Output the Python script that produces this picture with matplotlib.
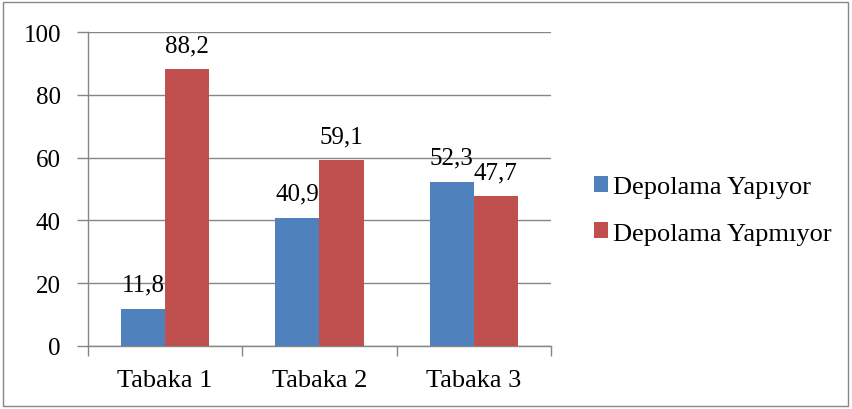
import matplotlib.pyplot as plt
import numpy as np
from matplotlib.patches import Rectangle

categories = ["Tabaka 1", "Tabaka 2", "Tabaka 3"]
yapiyor = [11.8, 40.9, 52.3]
yapmiyor = [88.2, 59.1, 47.7]
series_names = ["Depolama Yapıyor", "Depolama Yapmıyor"]
yticks = [0, 20, 40, 60, 80, 100]

plt.rcParams['font.family'] = ['Liberation Serif', 'DejaVu Serif']
grid_col = '#868686'
fs = 18

fig = plt.figure(figsize=(8.53, 4.10), dpi=100)
ax = fig.add_axes([88 / 853, 63 / 410, 463 / 853, 314 / 410])

x = np.arange(len(categories))
w = 1 / 3.5
b1 = ax.bar(x - w / 2, yapiyor, w, color='#4F81BD', label=series_names[0], zorder=3)
b2 = ax.bar(x + w / 2, yapmiyor, w, color='#C0504D', label=series_names[1], zorder=3)

for bars, vals in ((b1, yapiyor), (b2, yapmiyor)):
    for r, v in zip(bars, vals):
        ax.annotate(f"{v:.1f}".replace('.', ','), (r.get_x() + r.get_width() / 2, v),
                    xytext=(0, 13), textcoords='offset points',
                    ha='center', va='baseline', fontsize=fs, zorder=4)

ax.set_xlim(-0.5, len(categories) - 0.5)
ax.set_ylim(0, 100)
ax.set_yticks(yticks)
ax.set_xticks(x)
ax.set_xticklabels(categories)
ax.set_xticks(np.arange(len(categories) + 1) - 0.5, minor=True)
ax.tick_params(axis='x', which='major', length=0, pad=16.5, labelsize=19)
ax.tick_params(axis='x', which='minor', length=7, width=1, color=grid_col, direction='out')
ax.tick_params(axis='y', length=8, width=1, color=grid_col, pad=11.5, labelsize=fs)

ax.grid(axis='y', color=grid_col, lw=1, zorder=0)
for s in ('top', 'right'):
    ax.spines[s].set_visible(False)
for s in ('left', 'bottom'):
    ax.spines[s].set_color(grid_col)
    ax.spines[s].set_linewidth(1)

ax.legend(loc='upper left', bbox_to_anchor=(594 / 853, 1 - 177 / 410),
          bbox_transform=fig.transFigure, frameon=False, fontsize=19,
          handlelength=0.53, handleheight=0.53, handletextpad=0.19,
          labelspacing=0.92, borderaxespad=0, borderpad=0)

fig.patches.append(Rectangle((3 / 853, 3 / 410), 845 / 853, 404 / 410,
                             transform=fig.transFigure, fill=False,
                             edgecolor=grid_col, lw=1))

fig.savefig('out.png', dpi=100)
